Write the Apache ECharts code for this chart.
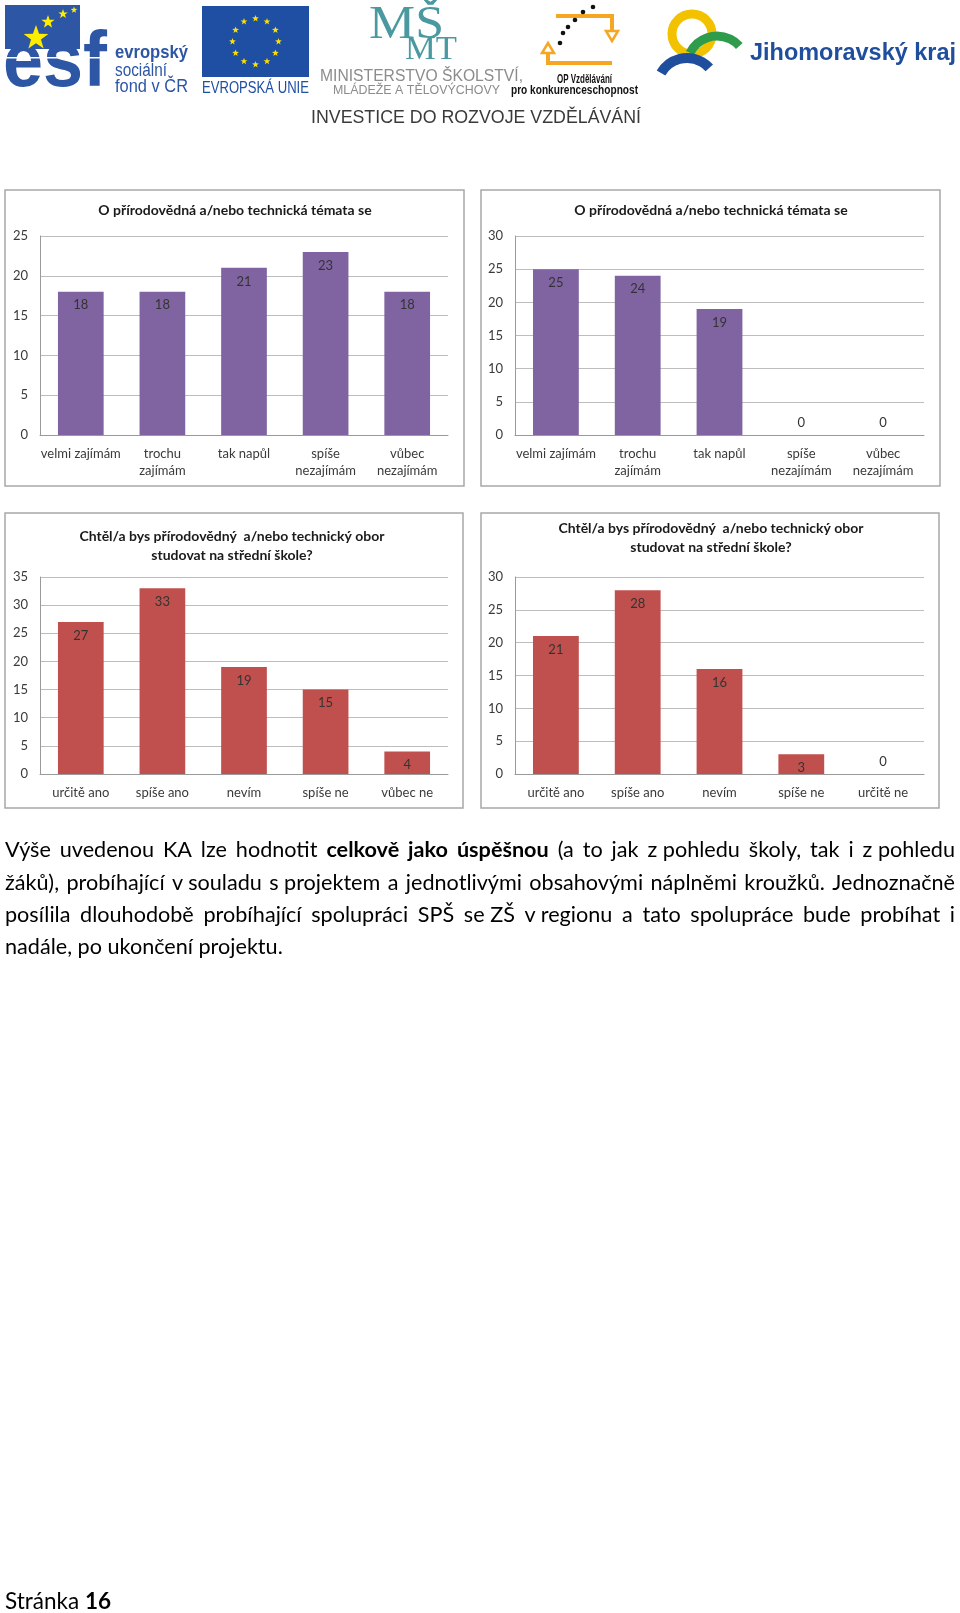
<!DOCTYPE html>
<html><head><meta charset="utf-8">
<script src="https://cdn.jsdelivr.net/npm/echarts@6/dist/echarts.min.js"></script>
<style>html,body{margin:0;padding:0;background:#fff}#c{width:960px;height:1613px}</style>
</head><body><div id="c"></div>
<script>
// ---------- data ----------
const cats1 = ['velmi zajímám', 'trochu\nzajímám', 'tak napůl', 'spíše\nnezajímám', 'vůbec\nnezajímám'];
const vals1 = [18, 18, 21, 23, 18];
const cats2 = ['velmi zajímám', 'trochu\nzajímám', 'tak napůl', 'spíše\nnezajímám', 'vůbec\nnezajímám'];
const vals2 = [25, 24, 19, 0, 0];
const cats3 = ['určitě ano', 'spíše ano', 'nevím', 'spíše ne', 'vůbec ne'];
const vals3 = [27, 33, 19, 15, 4];
const cats4 = ['určitě ano', 'spíše ano', 'nevím', 'spíše ne', 'určitě ne'];
const vals4 = [21, 28, 16, 3, 0];
const yMax = [25, 30, 35, 30];
const yStep = 5;
const title1 = 'O přírodovědná a/nebo technická témata se';
const title2 = 'Chtěl/a bys přírodovědný  a/nebo technický obor\nstudovat na střední škole?';
const paraLines = [
  'Výše uvedenou KA lze hodnotit *celkově *jako *úspěšnou (a to jak z\u00a0pohledu školy, tak i z\u00a0pohledu',
  'žáků), probíhající v\u00a0souladu s\u00a0projektem a jednotlivými obsahovými náplněmi kroužků. Jednoznačně',
  'posílila dlouhodobě probíhající spolupráci SPŠ se\u00a0ZŠ v\u00a0regionu a tato spolupráce bude probíhat i',
  'nadále, po ukončení projektu.'
];
const footerText = 'Stránka ';
const footerNum = '16';

// ---------- helpers ----------
const ctx = document.createElement('canvas').getContext('2d');
function tw(text, font) { ctx.font = font; return ctx.measureText(text).width; }
function fitText(text, x, y, size, family, weight, fill, target, align) {
  const w = tw(text, (weight || 'normal') + ' ' + size + 'px ' + family);
  const s = target / w;
  return { type: 'text', x: x, y: y, scaleX: s, originX: 0, originY: 0, z: 10,
    style: { text: text, fontSize: size, fontFamily: family, fontWeight: weight || 'normal', fill: fill,
      textAlign: align || 'left', align: align || 'left', textVerticalAlign: 'middle', verticalAlign: 'middle' } };
}
function txt(text, x, y, size, family, weight, fill, align, lh) {
  return { type: 'text', x: x, y: y, z: 10,
    style: { text: text, fontSize: size, fontFamily: family, fontWeight: weight || 'normal', fill: fill,
      lineHeight: lh || size * 1.2,
      textAlign: align || 'left', align: align || 'left', textVerticalAlign: 'middle', verticalAlign: 'middle' } };
}
function star(cx, cy, R, fill) {
  const pts = [];
  for (let i = 0; i < 10; i++) {
    const a = -Math.PI / 2 + i * Math.PI / 5;
    const r = i % 2 ? R * 0.4 : R;
    pts.push([cx + r * Math.cos(a), cy + r * Math.sin(a)]);
  }
  return { type: 'polygon', z: 11, shape: { points: pts }, style: { fill: fill } };
}
const deg = Math.PI / 180;

// ---------- header graphics ----------
const G = [];
// ESF
const esfBlue = '#2d56a5';
G.push({ type: 'rect', z: 9, shape: { x: 5, y: 5, width: 75, height: 44 }, style: { fill: esfBlue } });
G.push(fitText('esf', 3, 64, 78, 'Liberation Sans', 'bold', esfBlue, 104));
G.push({ type: 'rect', z: 12, shape: { x: 5, y: 57, width: 100, height: 1.5 }, style: { fill: '#fff' } });
G.push(star(36, 38, 13, '#ffed00'));
G.push(star(48, 22, 7, '#ffed00'));
G.push(star(63, 14, 5, '#ffed00'));
G.push(star(74, 10, 3.5, '#ffed00'));
G.push(fitText('evropský', 115, 53, 19, 'Liberation Sans', 'bold', esfBlue, 73));
G.push(fitText('sociální', 115, 71, 18, 'Liberation Sans', 'normal', esfBlue, 52));
G.push(fitText('fond v ČR', 115, 87, 18, 'Liberation Sans', 'normal', esfBlue, 73));
// EU
const euBlue = '#1f4fa3';
G.push({ type: 'rect', z: 9, shape: { x: 202, y: 6, width: 107, height: 71 }, style: { fill: euBlue } });
for (let i = 0; i < 12; i++) {
  const a = i * Math.PI / 6;
  G.push(star(255.5 + 23 * Math.cos(a), 41.5 + 23 * Math.sin(a), 3.6, '#ffe000'));
}
G.push(fitText('EVROPSKÁ UNIE', 202, 89, 16, 'Liberation Sans', 'normal', euBlue, 107));
// MSMT
const teal = '#4a99a0';
G.push(fitText('MŠ', 369, 26, 46, 'Liberation Serif', 'normal', teal, 75));
G.push(fitText('MT', 405, 50, 34, 'Liberation Serif', 'normal', teal, 52));
G.push(fitText('MINISTERSTVO ŠKOLSTVÍ,', 320, 77, 16, 'Liberation Sans', 'normal', '#8c8c8c', 203));
G.push(fitText('MLÁDEŽE A TĚLOVÝCHOVY', 333, 90, 13, 'Liberation Sans', 'normal', '#8c8c8c', 167));
// OP
const orange = '#f5a623';
G.push({ type: 'polyline', z: 10, shape: { points: [[556, 16], [612, 16], [612, 31]] }, style: { stroke: orange, lineWidth: 4, fill: null } });
G.push({ type: 'polygon', z: 10, shape: { points: [[606, 31], [618, 31], [612, 41]] }, style: { stroke: orange, lineWidth: 2.5, fill: '#fff' } });
G.push({ type: 'polyline', z: 10, shape: { points: [[612, 63], [548, 63], [548, 53]] }, style: { stroke: orange, lineWidth: 4, fill: null } });
G.push({ type: 'polygon', z: 10, shape: { points: [[542, 53], [554, 53], [548, 43]] }, style: { stroke: orange, lineWidth: 2.5, fill: '#fff' } });
[[560, 43], [563, 33], [568, 27], [575, 20], [583, 12], [593, 7]].forEach(p => {
  G.push({ type: 'circle', z: 11, shape: { cx: p[0], cy: p[1], r: 2.3 }, style: { fill: '#111' } });
});
G.push(fitText('OP Vzdělávání', 557, 79, 13, 'Liberation Sans', 'bold', '#111', 55));
G.push(fitText('pro konkurenceschopnost', 511, 90, 13, 'Liberation Sans', 'bold', '#111', 127));
// Jihomoravsky kraj
G.push({ type: 'circle', z: 10, shape: { cx: 692, cy: 34, r: 20 }, style: { stroke: '#f2c200', lineWidth: 9, fill: null } });
G.push({ type: 'arc', z: 11, shape: { cx: 717, cy: 66, r: 30, startAngle: 206 * deg, endAngle: 318 * deg, clockwise: true }, style: { stroke: '#2e9c4a', lineWidth: 9, fill: null } });
G.push({ type: 'arc', z: 12, shape: { cx: 687, cy: 88, r: 30, startAngle: 210 * deg, endAngle: 318 * deg, clockwise: true }, style: { stroke: '#1f4e9c', lineWidth: 10, fill: null } });
G.push(fitText('Jihomoravský kraj', 750, 53, 24, 'Liberation Sans', 'bold', '#1f4e9c', 206));
// investice
G.push(fitText('INVESTICE DO ROZVOJE VZDĚLÁVÁNÍ', 311, 118, 19, 'Liberation Sans', 'normal', '#3a3a3a', 330));

// ---------- chart frames & titles ----------
const frames = [[5, 190, 459, 296], [481, 190, 459, 296], [5, 513, 458, 295], [481, 513, 458, 295]];
frames.forEach(f => G.push({ type: 'rect', z: 1, shape: { x: f[0], y: f[1], width: f[2], height: f[3] }, style: { fill: null, stroke: '#a8a8a8', lineWidth: 1.5 } }));
const TS = 14;
G.push(txt(title1, 235, 210, TS, 'Lato', 'bold', '#1a1a1a', 'center'));
G.push(txt(title1, 711, 210, TS, 'Lato', 'bold', '#1a1a1a', 'center'));
G.push(txt(title2, 232, 546, TS, 'Lato', 'bold', '#1a1a1a', 'center', 18.5));
G.push(txt(title2, 711, 537.5, TS, 'Lato', 'bold', '#1a1a1a', 'center', 19));

// ---------- paragraph (justified) ----------
const PF = 'Lato';
const PS = 18 * 278 / tw(paraLines[3], 'normal 18px ' + PF);
const paraY = [850, 883, 915, 947];
paraLines.forEach((line, li) => {
  const toks = line.split(' ').map(t => t.startsWith('*') ? { t: t.slice(1), b: true } : { t: t, b: false });
  const ws = toks.map(k => tw(k.t, (k.b ? 'bold ' : 'normal ') + PS + 'px ' + PF));
  const sum = ws.reduce((a, b) => a + b, 0);
  const justify = li < paraLines.length - 1;
  const gap = justify ? (955 - 5 - sum) / (toks.length - 1) : tw(' ', 'normal ' + PS + 'px ' + PF);
  let x = 5;
  toks.forEach((k, i) => {
    G.push(txt(k.t, x, paraY[li], PS, PF, k.b ? 'bold' : 'normal', '#000', 'left'));
    x += ws[i] + gap;
  });
});
// footer
const FS = 20 * 106 / (tw(footerText, 'normal 20px Lato') + tw(footerNum, 'bold 20px Lato'));
const fw = tw(footerText, 'normal ' + FS + 'px Lato');
G.push(txt(footerText, 5, 1602, FS, 'Lato', 'normal', '#000', 'left'));
G.push(txt(footerNum, 5 + fw, 1602, FS, 'Lato', 'bold', '#000', 'left'));

// ---------- charts ----------
const grids = [
  { left: 40, top: 236, width: 408, height: 199 },
  { left: 515, top: 236, width: 409, height: 199 },
  { left: 40, top: 577, width: 408, height: 197 },
  { left: 515, top: 577, width: 409, height: 197 }
];
const allCats = [cats1, cats2, cats3, cats4];
const allVals = [vals1, vals2, vals3, vals4];
const colors = ['#8064A2', '#8064A2', '#C0504D', '#C0504D'];
const labelColor = '#3a3a3a';

const option = {
  animation: false,
  backgroundColor: '#fff',
  grid: grids.map(g => Object.assign({ containLabel: false }, g)),
  xAxis: allCats.map((c, i) => ({
    type: 'category', gridIndex: i, data: c,
    axisLine: { show: true, lineStyle: { color: '#9a9a9a', width: 1 } },
    axisTick: { show: false },
    axisLabel: { interval: 0, margin: 10, fontSize: 13, fontFamily: 'Lato', color: labelColor, lineHeight: 17 }
  })),
  yAxis: yMax.map((m, i) => ({
    type: 'value', gridIndex: i, min: 0, max: m, interval: yStep,
    axisLine: { show: true, lineStyle: { color: '#9a9a9a', width: 1 } },
    axisTick: { show: false },
    splitLine: { show: true, lineStyle: { color: '#bdbdbd', width: 1 } },
    axisLabel: { margin: 12, fontSize: 13, fontFamily: 'Lato', color: labelColor }
  })),
  series: allVals.map((v, i) => ({
    type: 'bar', xAxisIndex: i, yAxisIndex: i,
    barWidth: '56%',
    itemStyle: { color: colors[i] },
    label: { show: true, position: 'insideTop', distance: 7, fontSize: 13, fontFamily: 'Lato', color: '#333' },
    data: v.map(x => x === 0 ? { value: x, label: { position: 'top', distance: 6 } } : x)
  })),
  graphic: { elements: G }
};

const chart = echarts.init(document.getElementById('c'), null, { renderer: 'canvas' });
chart.setOption(option);
</script>
</body></html>
